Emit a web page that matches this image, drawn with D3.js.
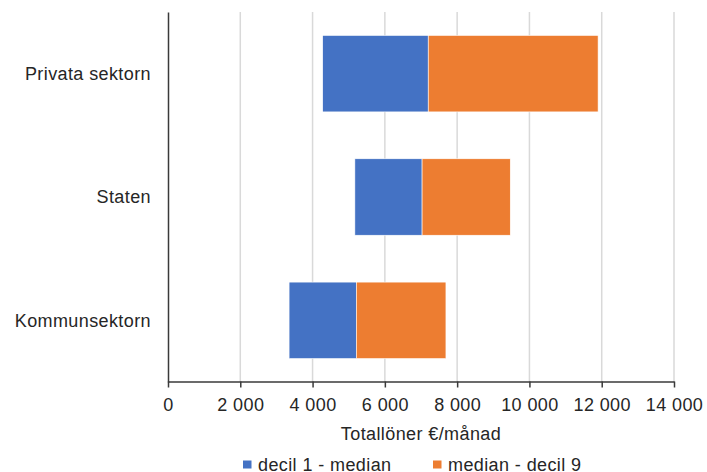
<!DOCTYPE html>
<html>
<head>
<meta charset="utf-8">
<script src="https://cdn.jsdelivr.net/npm/d3@7"></script>
<style>
  body { margin: 0; background: #fff; }
  text { font-family: "Liberation Sans", Arial, sans-serif; fill: #262626; letter-spacing: 0.4px; }
</style>
</head>
<body>
<svg width="707" height="472"></svg>
<script>
// data
const categories = ["Privata sektorn", "Staten", "Kommunsektorn"];
const decil1 = [4280, 5170, 3350];
const median = [7200, 7030, 5210];
const decil9 = [11900, 9470, 7690];
const xTicks = [0, 2000, 4000, 6000, 8000, 10000, 12000, 14000];
const seriesNames = ["decil 1 - median", "median - decil 9"];
const colors = ["#4472C4", "#ED7D31"];

const svg = d3.select("svg");
const margin = {top: 12, left: 168, right: 33, bottom: 90};
const width = 707 - margin.left - margin.right,
      height = 382 - margin.top;

const g = svg.append("g").attr("transform", "translate(" + margin.left + "," + margin.top + ")");

const x = d3.scaleLinear().domain([0, 14000]).range([0, width]);
const y = d3.scaleBand().domain(categories).range([0, height])
    .paddingInner(0.38).paddingOuter(0.19);

// rutnät
g.append("g")
  .selectAll("line")
  .data(xTicks.slice(1))
  .join("line")
    .attr("x1", d => x(d)).attr("x2", d => x(d))
    .attr("y1", 0).attr("y2", height - 0.5)
    .attr("stroke", "#d9d9d9")
    .attr("stroke-width", 1.5);

// staplar: osynlig bas + två segment
const rows = categories.map((c, i) => ({cat: c, d1: decil1[i], med: median[i], d9: decil9[i]}));

g.append("g").selectAll("rect")
  .data(rows)
  .join("rect")
    .attr("x", d => x(d.d1))
    .attr("y", d => y(d.cat))
    .attr("width", d => x(d.med) - x(d.d1))
    .attr("height", y.bandwidth())
    .attr("fill", colors[0])
    .attr("stroke", "#fff").attr("stroke-width", 0.6);

g.append("g").selectAll("rect")
  .data(rows)
  .join("rect")
    .attr("x", d => x(d.med))
    .attr("y", d => y(d.cat))
    .attr("width", d => x(d.d9) - x(d.med))
    .attr("height", y.bandwidth())
    .attr("fill", colors[1])
    .attr("stroke", "#fff").attr("stroke-width", 0.6);

// x-axel
const xa = g.append("g")
  .attr("transform", "translate(0," + (height - 0.5) + ")")
  .call(d3.axisBottom(x).tickValues(xTicks).tickSize(6).tickSizeOuter(0)
    .tickFormat(d => d3.format(",")(d).replace(",", " ")));
xa.select(".domain").attr("stroke", "#3a3a3a").attr("stroke-width", 1.5);
xa.selectAll(".tick line").attr("stroke", "#3a3a3a").attr("stroke-width", 1.5);
xa.selectAll(".tick text").attr("font-size", 18).attr("dy", null).attr("y", 29)
  .style("font-family", "Liberation Sans, Arial, sans-serif").attr("fill", "#262626");

// y-axel
const ya = g.append("g")
  .call(d3.axisLeft(y).tickSize(0).tickPadding(17));
ya.select(".domain").attr("stroke", "#3a3a3a").attr("stroke-width", 1.5);
ya.selectAll(".tick text").attr("font-size", 18).attr("dy", "0.35em")
  .style("font-family", "Liberation Sans, Arial, sans-serif").attr("fill", "#262626");

// axeltitel
svg.append("text")
  .attr("x", margin.left + width / 2)
  .attr("y", 440)
  .attr("text-anchor", "middle")
  .attr("font-size", 18)
  .text("Totallöner €/månad");

// legend
const legX = [243, 433];
const leg = svg.append("g").selectAll("g")
  .data(seriesNames)
  .join("g")
    .attr("transform", (d, i) => "translate(" + legX[i] + ",0)");
leg.append("rect")
  .attr("x", 0).attr("y", 460.5)
  .attr("width", 8.5).attr("height", 8)
  .attr("fill", (d, i) => colors[i]);
leg.append("text")
  .attr("x", 15).attr("y", 471)
  .attr("font-size", 18)
  .text(d => d);
</script>
</body>
</html>
